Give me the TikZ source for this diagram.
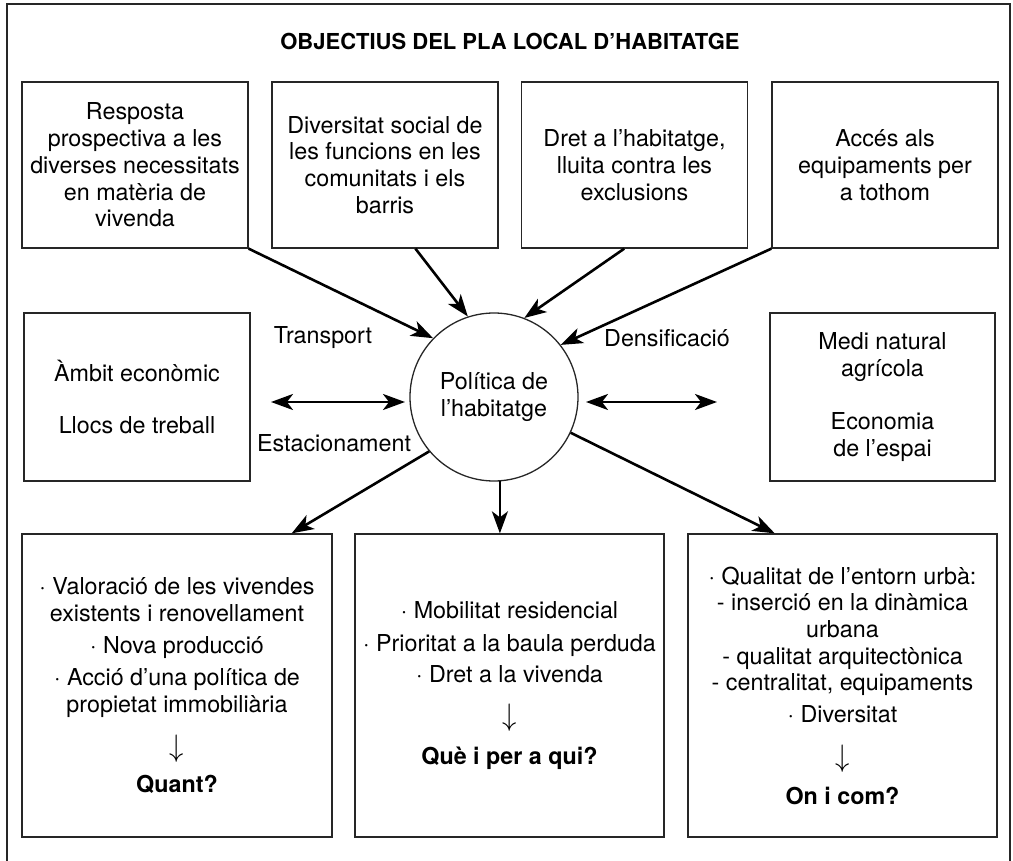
\documentclass[tikz,border=0pt]{standalone}
\usepackage{fontspec}
\usepackage{graphicx}
\setmainfont{TeX Gyre Heros}
\usetikzlibrary{arrows.meta,calc}
\newcommand{\dnarrow}{\scalebox{1.15}[1.25]{$\downarrow$}}
\begin{document}
\begin{tikzpicture}[x=1pt,y=-1pt,
  txt/.style={font=\fontsize{23.3pt}{26.7pt}\selectfont, align=center, inner sep=0pt},
  box/.style={txt, draw=black!85, line width=1.3pt, minimum width=226pt, minimum height=166pt},
  bigbox/.style={box, minimum width=309pt, minimum height=303pt},
  circ/.style={txt, circle, draw=black!85, line width=1.3pt, minimum size=168pt},
  lbl/.style={txt},
  arr/.style={line width=2.6pt, -{Stealth[length=22pt,width=16pt,inset=6pt]}},
  darr/.style={line width=2.6pt, {Stealth[length=22pt,width=16pt,inset=6pt]}-{Stealth[length=22pt,width=16pt,inset=6pt]}},
  frame/.style={draw=black!85, line width=1.5pt}]
\useasboundingbox (0,0) rectangle (1013,861);
\draw[frame] (7,861) -- (7,4) -- (1010,4) -- (1010,861);

\node[txt, font=\fontsize{22pt}{26.7pt}\selectfont\bfseries] (title) at (510,41) {OBJECTIUS DEL PLA LOCAL D’HABITATGE};

\node[box] (b1) at (135,165) {Resposta\\prospectiva a les\\diverses necessitats\\en matèria de\\vivenda};
\node[box] (b2) at (385,165) {Diversitat social de\\les funcions en les\\comunitats i els\\barris};
\node[box] (b3) at (634.5,165) {Dret a l’habitatge,\\lluita contra les\\exclusions};
\node[box] (b4) at (885,165) {Accés als\\equipaments per\\a tothom};

\node[box, minimum height=168pt] (m1) at (137,397) {Àmbit econòmic\\[26pt]Llocs de treball};
\node[box, minimum height=168pt, minimum width=225pt] (m2) at (882.5,397) {Medi natural\\agrícola\\[26pt]Economia\\de l’espai};

\node[circ] (c) at (494,397) {Política de\\l’habitatge};

\node[lbl] (ltr) at (323,338) {Transport};
\node[lbl] (les) at (334,443) {Estacionament};
\node[lbl] (lde) at (667,338) {Densificació};

\node[bigbox, minimum width=310pt] (b5) at (177,685.5) {· Valoració de les vivendes\\existents i renovellament\\[6pt]· Nova producció\\[5pt]· Acció d’una política de\\propietat immobiliària\\[18pt]\dnarrow\\[9pt]\textbf{Quant?}};
\node[bigbox] (b6) at (509.5,685.5) {· Mobilitat residencial\\[6pt]· Prioritat a la baula perduda\\[5pt]· Dret a la vivenda\\[16pt]\dnarrow\\[12pt]\textbf{Què i per a qui?}};
\node[bigbox] (b7) at (842.5,685.5) {· Qualitat de l’entorn urbà:\\- inserció en la dinàmica\\urbana\\- qualitat arquitectònica\\- centralitat, equipaments\\[5pt]· Diversitat\\[17pt]\dnarrow\\[11pt]\textbf{On i com?}};

\draw[arr] (b1.south east) -- (c.136);
\draw[arr] (b2.-70) -- (c.108);
\draw[arr] (b3.-97) -- (c.69);
\draw[arr] (b4.south west) -- (c.38);

\coordinate (dl1) at (271,402);
\coordinate (dl2) at (405,402);
\coordinate (dr1) at (586,402);
\coordinate (dr2) at (717,402);
\draw[darr] (dl1) -- (dl2);
\draw[darr] (dr1) -- (dr2);

\draw[arr] (c.220) -- (b5.53);
\draw[arr] (c.-86) -- (c.-86 |- b6.north);
\draw[arr] (c.-25) -- (b7.114);
\end{tikzpicture}
\end{document}
